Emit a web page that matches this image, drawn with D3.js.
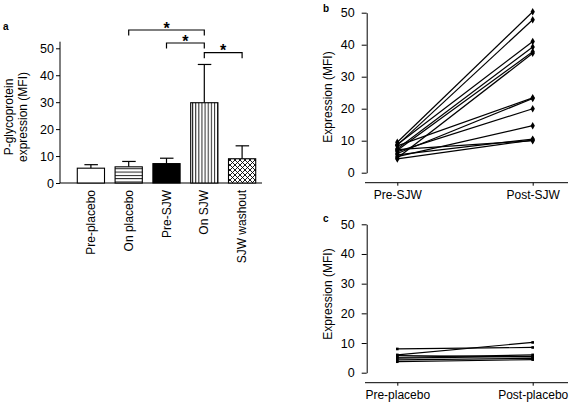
<!DOCTYPE html>
<html><head><meta charset="utf-8">
<script src="https://cdn.jsdelivr.net/npm/d3@7"></script>
<style>body{margin:0;background:#fff}svg{display:block}text{font-family:"Liberation Sans",Arial,sans-serif;fill:#000}</style>
</head><body>
<script>
// ---- data ----
const barCategories = ["Pre-placebo","On placebo","Pre-SJW","On SJW","SJW washout"];
const barMeans = [5.5, 6.0, 7.2, 29.8, 9.0];
const barErrTops = [6.8, 8.0, 9.2, 44.0, 13.8];
const barFills = ["white","hlines","black","vlines","cross"];
const sigPairs = [["On placebo","On SJW"],["Pre-SJW","On SJW"],["On SJW","SJW washout"]];
const sigLabels = ["*","*","*"];
const yTicks = [0,10,20,30,40,50];

const sjwCategories = ["Pre-SJW","Post-SJW"];
const sjwPre  = [9.5, 8.6, 8.8, 7.5, 7.0, 4.6, 8.4, 6.0, 6.6, 5.0, 5.6, 4.3, 7.2];
const sjwPost = [50.3, 47.8, 41.0, 39.3, 37.8, 37.3, 23.4, 23.2, 20.0, 14.7, 10.5, 10.2, 10.0];

const plaCategories = ["Pre-placebo","Post-placebo"];
const plaPre  = [8.0, 6.0, 5.8, 5.2, 4.9, 4.3, 3.7];
const plaPost = [8.5, 10.2, 5.3, 6.0, 5.5, 4.8, 4.4];

// ---- svg ----
const svg = d3.select("body").append("svg").attr("width",571).attr("height",403);
const defs = svg.append("defs");
const ph = defs.append("pattern").attr("id","hlines").attr("patternUnits","userSpaceOnUse").attr("width",6).attr("height",3.3);
ph.append("rect").attr("width",6).attr("height",3.3).attr("fill","white");
ph.append("line").attr("x1",0).attr("x2",6).attr("y1",0.5).attr("y2",0.5).attr("stroke","#000").attr("stroke-width",0.9);
const pv = defs.append("pattern").attr("id","vlines").attr("patternUnits","userSpaceOnUse").attr("width",3.1).attr("height",6);
pv.append("rect").attr("width",3.1).attr("height",6).attr("fill","white");
pv.append("line").attr("y1",0).attr("y2",6).attr("x1",0.5).attr("x2",0.5).attr("stroke","#000").attr("stroke-width",0.9);
const pc = defs.append("pattern").attr("id","cross").attr("patternUnits","userSpaceOnUse").attr("width",5).attr("height",5);
pc.append("rect").attr("width",5).attr("height",5).attr("fill","white");
pc.append("path").attr("d","M0,0L5,5M5,0L0,5M-1,4L1,6M4,-1L6,1M-1,1L1,-1M4,6L6,4").attr("stroke","#000").attr("stroke-width",0.9);

function fillFor(f){ return f==="white"?"white":f==="black"?"black":`url(#${f})`; }

// ---- panel a ----
const ya = d3.scaleLinear().domain([0,50]).range([183,48.3]);
const xa = d3.scaleBand().domain(barCategories).range([72,261]).paddingInner(0.28).paddingOuter(0.14);
const ga = svg.append("g");
ga.append("text").attr("x",3).attr("y",30).attr("font-size",10).attr("font-weight","bold").text("a");
// axes
const yAxisA = ga.append("g").attr("transform","translate(60,0)")
  .call(d3.axisLeft(ya).tickValues(yTicks).tickSize(4).tickPadding(2).tickSizeOuter(0));
yAxisA.select(".domain").remove();
yAxisA.selectAll("text").attr("font-size",12.5).attr("font-family","Liberation Sans, Arial");
ga.append("line").attr("x1",60).attr("x2",60).attr("y1",41.7).attr("y2",183).attr("stroke","#000");
ga.append("line").attr("x1",60).attr("x2",262).attr("y1",183).attr("y2",183).attr("stroke","#000");
// bars
const barData = barCategories.map((c,i)=>({c,v:barMeans[i],e:barErrTops[i],f:barFills[i]}));
ga.selectAll("line.err").data(barData).join("line").attr("class","err")
  .attr("x1",d=>xa(d.c)+xa.bandwidth()/2).attr("x2",d=>xa(d.c)+xa.bandwidth()/2)
  .attr("y1",d=>ya(d.v)).attr("y2",d=>ya(d.e)).attr("stroke","#000").attr("stroke-width",1.2);
ga.selectAll("line.cap").data(barData).join("line").attr("class","cap")
  .attr("x1",d=>xa(d.c)+xa.bandwidth()/2-6.5).attr("x2",d=>xa(d.c)+xa.bandwidth()/2+7)
  .attr("y1",d=>ya(d.e)).attr("y2",d=>ya(d.e)).attr("stroke","#000").attr("stroke-width",1.2);
ga.selectAll("rect.bar").data(barData).join("rect").attr("class","bar")
  .attr("x",d=>xa(d.c)).attr("width",xa.bandwidth())
  .attr("y",d=>ya(d.v)).attr("height",d=>ya(0)-ya(d.v))
  .attr("fill",d=>fillFor(d.f)).attr("stroke","#000").attr("stroke-width",1.1);
// x labels
ga.selectAll("text.xl").data(barCategories).join("text").attr("class","xl")
  .attr("transform",c=>`translate(${xa(c)+xa.bandwidth()/2+4},190) rotate(-90)`)
  .attr("text-anchor","end").attr("font-size",12).text(c=>c);
// y label
ga.append("text").attr("transform","translate(13,117) rotate(-90)").attr("text-anchor","middle").attr("font-size",12).text("P-glycoprotein");
ga.append("text").attr("transform","translate(26.5,117) rotate(-90)").attr("text-anchor","middle").attr("font-size",12).text("expression (MFI)");
// significance brackets
const bracketY = [30, 43, 52.7];
sigPairs.forEach((p,i)=>{
  const x1 = xa(p[0])+xa.bandwidth()/2, x2 = xa(p[1])+xa.bandwidth()/2, y = bracketY[i];
  ga.append("path").attr("d",`M${x1},${y+5.5}V${y}H${x2}V${y+5.5}`).attr("fill","none").attr("stroke","#000").attr("stroke-width",1.2);
  ga.append("text").attr("x",(x1+x2)/2).attr("y",y+3.5).attr("text-anchor","middle").attr("font-size",16).attr("font-weight","bold").text(sigLabels[i]);
});

// ---- panels b & c ----
function pairedPanel(label, cats, pre, post, y0, y50, axisY, labelY, ylabY, markerType, markerSize){
  const g = svg.append("g");
  const y = d3.scaleLinear().domain([0,50]).range([y0,y50]);
  const x = d3.scalePoint().domain(cats).range([397.3,532.7]);
  g.append("text").attr("x",323).attr("y",labelY).attr("font-size",10).attr("font-weight","bold").text(label);
  const ax = g.append("g").attr("transform","translate(366.7,0)")
    .call(d3.axisLeft(y).tickValues(yTicks).tickSize(5).tickPadding(7).tickSizeOuter(0));
  ax.selectAll("text").attr("font-size",12.5).attr("font-family","Liberation Sans, Arial");
  ax.select(".domain").attr("stroke","#000");
  const bx = g.append("g").attr("transform",`translate(0,${axisY})`)
    .call(d3.axisBottom(x).tickSize(3).tickPadding(5).tickSizeOuter(0));
  bx.select(".domain").attr("d","M365,0H568");
  bx.selectAll("text").attr("font-size",12).attr("font-family","Liberation Sans, Arial");
  g.append("text").attr("transform",`translate(332,${ylabY}) rotate(-90)`).attr("text-anchor","middle").attr("font-size",12).text("Expression (MFI)");
  const rows = pre.map((v,i)=>[v,post[i]]);
  const line = d3.line().x((d,i)=>x(cats[i])).y(d=>y(d));
  g.selectAll("path.pl").data(rows).join("path").attr("class","pl")
    .attr("d",line).attr("fill","none").attr("stroke","#000").attr("stroke-width",1.2);
  const pts = [];
  rows.forEach(r=>r.forEach((v,i)=>pts.push({c:cats[i],v})));
  g.selectAll("path.mk").data(pts).join("path").attr("class","mk")
    .attr("transform",d=>`translate(${x(d.c)},${y(d.v)})`)
    .attr("d",d3.symbol().type(markerType).size(markerSize)).attr("fill","#000");
}
pairedPanel("b", sjwCategories, sjwPre, sjwPost, 172.7, 12.7, 182.7, 12, 97, d3.symbolDiamond, 16);
pairedPanel("c", plaCategories, plaPre, plaPost, 372.7, 224.3, 382.7, 222, 294, d3.symbolSquare, 7);
</script>
</body></html>
